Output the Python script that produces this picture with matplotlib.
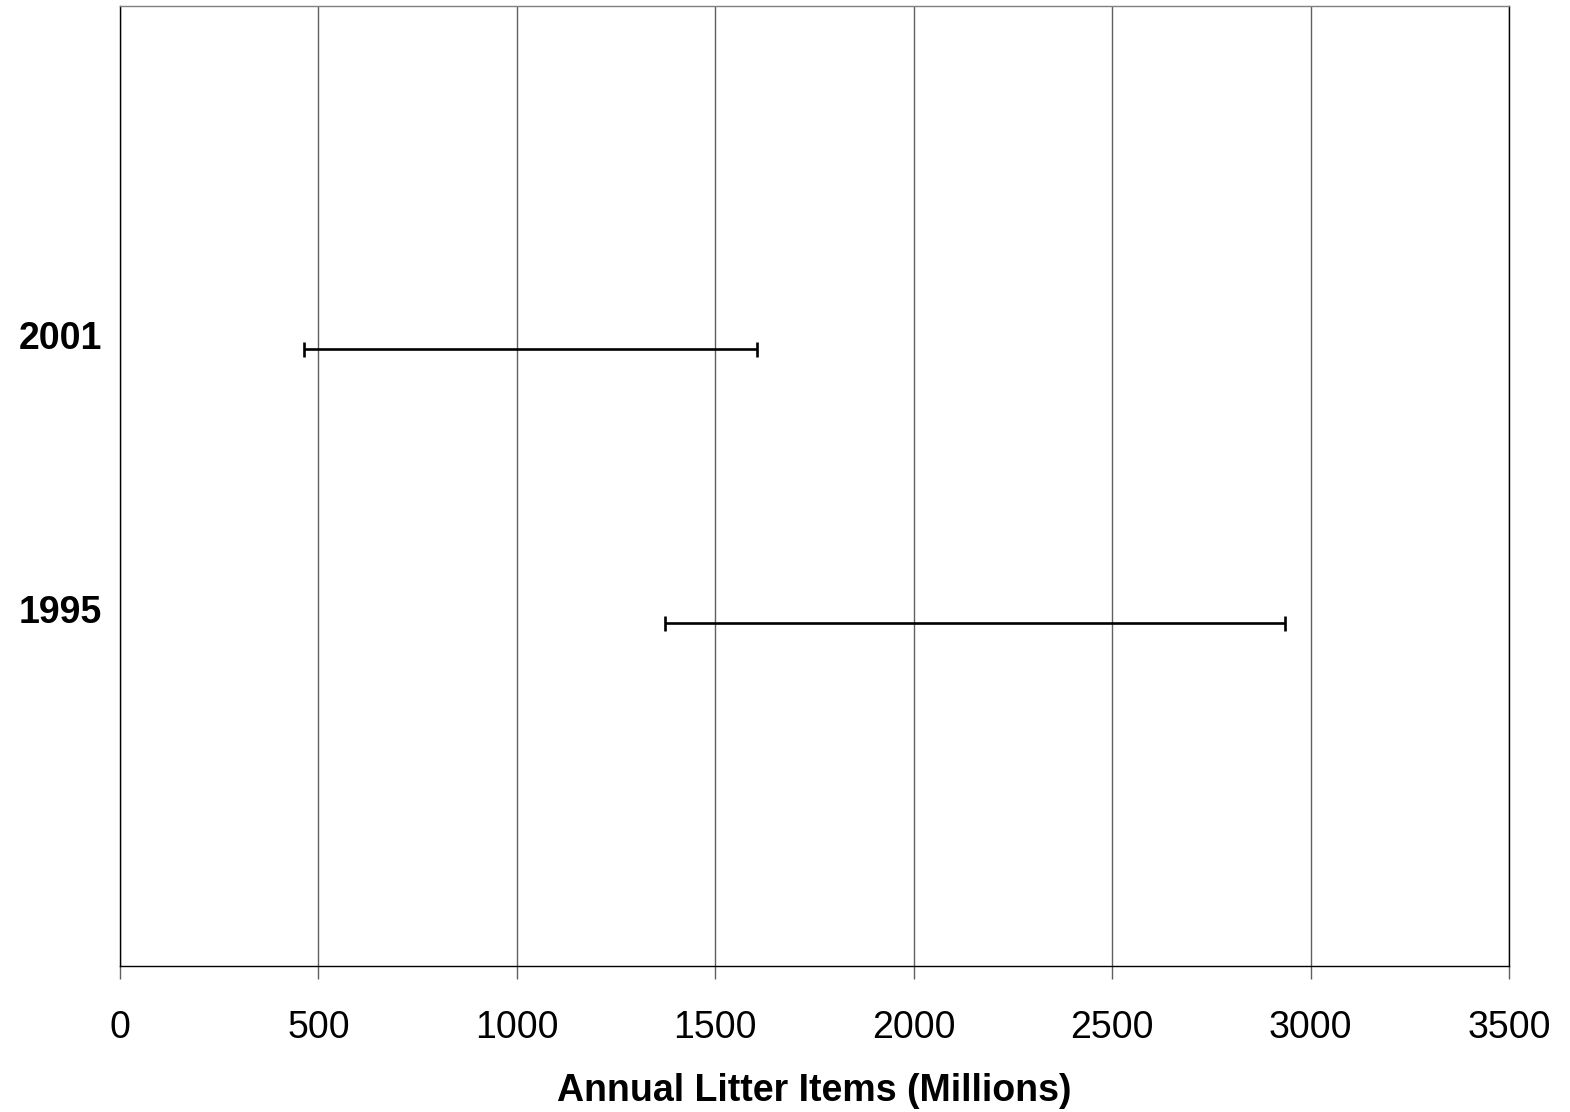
import matplotlib
matplotlib.use("Agg")
import matplotlib.pyplot as plt

years = ["1995", "2001"]
centers = [2154, 1034]
half_ranges = [781, 571]
x_ticks = [0, 500, 1000, 1500, 2000, 2500, 3000, 3500]

plt.rcParams['font.family'] = ['Liberation Sans', 'DejaVu Sans']

fig = plt.figure(figsize=(15.7, 11.12), dpi=100)
ax = fig.add_axes([120/1570, 1-966/1112, (1509-120)/1570, (966-6)/1112])

ypos = [2.5, 4.5]
ax.errorbar(centers, ypos, xerr=half_ranges, fmt='none', ecolor='black',
            elinewidth=1.9, capsize=5.4, capthick=1.9, zorder=3)

ax.set_xlim(0, 3500)
ax.set_ylim(0, 7)
ax.set_xticks(x_ticks)
ax.set_xticklabels([str(v) for v in x_ticks], fontsize=27)
ax.set_yticks(ypos)
ax.set_yticklabels(years, fontsize=27, fontweight='bold', va='baseline')

ax.grid(axis='x', color='#606060', linewidth=1.0, zorder=1)
ax.tick_params(axis='x', direction='out', length=9.4, width=1.0, color='#606060', pad=22.5)
ax.tick_params(axis='y', length=0, pad=13)

ax.spines['top'].set_color('#808080')
ax.spines['top'].set_linewidth(1.0)
for s in ['left', 'right', 'bottom']:
    ax.spines[s].set_color('black')
    ax.spines[s].set_linewidth(1.0)

ax.set_xlabel('Annual Litter Items (Millions)', fontsize=27, fontweight='bold', labelpad=19)

fig.savefig('out.png', dpi=100, facecolor='white')
